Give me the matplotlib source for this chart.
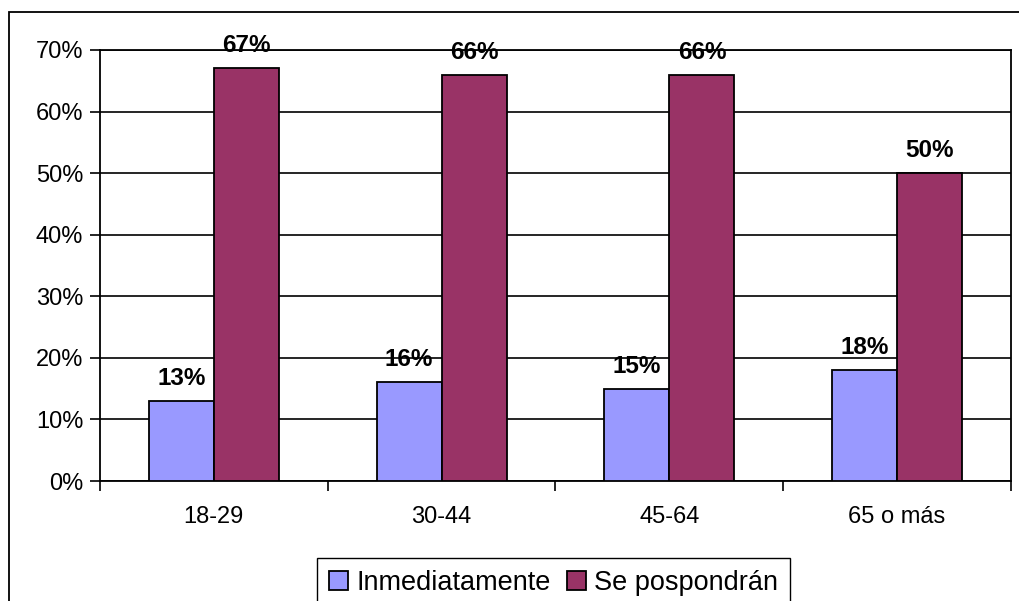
import numpy as np
import matplotlib
matplotlib.use("Agg")
import matplotlib.pyplot as plt
from matplotlib.patches import Rectangle
from matplotlib.ticker import FuncFormatter, FixedLocator

plt.rcParams['font.family'] = ['Liberation Sans', 'DejaVu Sans']

categorias = ["18-29", "30-44", "45-64", "65 o más"]
inmediatamente = [13, 16, 15, 18]
pospondran = [67, 66, 66, 50]
series = ["Inmediatamente", "Se pospondrán"]
colores = ["#9999FF", "#993366"]

fig = plt.figure(figsize=(10.2, 6.01), dpi=100)
ax = fig.add_axes([100/1020, 1-481/601, (1011-100)/1020, (481-50)/601])

x = np.arange(len(categorias))
w = 1/3.5
for i, (vals, nom, col) in enumerate(zip([inmediatamente, pospondran], series, colores)):
    pos = x + (i - 0.5) * w
    ax.bar(pos, vals, width=w, color=col, edgecolor="black", linewidth=1.3,
           label=nom, zorder=3)
    for px, v in zip(pos, vals):
        ax.annotate(f"{v}%", (px, v), xytext=(0, 8), textcoords="offset points",
                    ha="center", va="bottom", fontsize=17.5, fontweight="bold", zorder=4)

ax.set_xlim(-0.5, len(categorias) - 0.5)
ax.set_ylim(0, 70)
ax.set_yticks(range(0, 71, 10))
ax.yaxis.set_major_formatter(FuncFormatter(lambda v, p: f"{int(v)}%"))
ax.grid(axis="y", color="black", linewidth=1.2, zorder=0)
ax.set_xticks(x)
ax.set_xticklabels(categorias)
ax.xaxis.set_minor_locator(FixedLocator(np.arange(-0.5, len(categorias), 1)))
ax.tick_params(axis="x", which="major", length=0, labelsize=17, pad=18)
ax.tick_params(axis="x", which="minor", length=7, width=1.2)
ax.tick_params(axis="y", length=7, width=1.2, labelsize=17, pad=5)
for s in ax.spines.values():
    s.set_linewidth(1.3)
    s.set_color("black")

fig.patches.append(Rectangle((9/1020, -0.1), 1.2, 1 - 12/601 + 0.1, transform=fig.transFigure,
                             fill=False, edgecolor="black", linewidth=1.3))

fig.legend(loc="upper center", bbox_to_anchor=(553.5/1020, 1-558/601), ncol=2,
           fontsize=19.5, frameon=True, fancybox=False, edgecolor="black",
           handlelength=0.7, handleheight=0.7, handletextpad=0.3, columnspacing=0.6,
           borderpad=0.45, borderaxespad=0, framealpha=1)

fig.savefig("out.png", dpi=100)
